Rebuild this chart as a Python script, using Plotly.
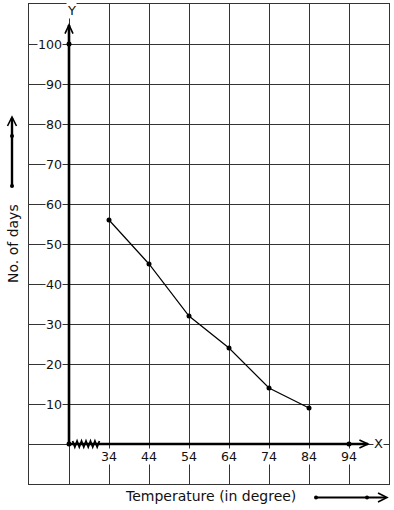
import plotly.graph_objects as go

temps = [34, 44, 54, 64, 74, 84]
days = [56, 45, 32, 24, 14, 9]
x_tick_vals = [34, 44, 54, 64, 74, 84, 94]
y_tick_vals = [10, 20, 30, 40, 50, 60, 70, 80, 90, 100]
origin_x = 24

FONT = "DejaVu Sans"
fig = go.Figure()

# data line
fig.add_trace(go.Scatter(x=temps, y=days, mode="lines+markers",
                         line=dict(color="black", width=1.2),
                         marker=dict(color="black", size=5),
                         hoverinfo="skip", showlegend=False))
# axis dots
fig.add_trace(go.Scatter(x=[origin_x, origin_x, 94], y=[0, 100, 0], mode="markers",
                         marker=dict(color="black", size=5), cliponaxis=False,
                         hoverinfo="skip", showlegend=False))

shapes = []
# Y axis thick line + chevron
shapes.append(dict(type="line", xref="x", yref="y", x0=origin_x, y0=0, x1=origin_x, y1=104.75,
                   line=dict(color="black", width=2.6)))
shapes.append(dict(type="path", xref="x", yref="y",
                   path=f"M {origin_x-1},102.6 L {origin_x},104.75 L {origin_x+1},102.6",
                   line=dict(color="black", width=1.6)))
# X axis thick line + chevron
shapes.append(dict(type="line", xref="x", yref="y", x0=origin_x, y0=0, x1=98.75, y1=0,
                   line=dict(color="black", width=2.6)))
shapes.append(dict(type="path", xref="x", yref="y",
                   path="M 96.6,1 L 98.75,0 L 96.6,-1",
                   line=dict(color="black", width=1.6)))
# zigzag (axis break)
zz = []
n = 12
x0z, x1z = 24.9, 31.6
for i in range(n + 1):
    xx = x0z + (x1z - x0z) * i / n
    yy = 0.75 if i % 2 == 0 else -0.75
    zz.append(f"{'M' if i == 0 else 'L'} {xx:.3f},{yy}")
shapes.append(dict(type="path", xref="x", yref="y", path=" ".join(zz),
                   line=dict(color="black", width=1.8)))

# left decorative arrow (paper coords; 1px x = 1/360, 1px y = 1/480)
def px(xp):
    return (xp - 29) / 360
def py(yp):
    return (484 - yp) / 480

shapes.append(dict(type="line", xref="paper", yref="paper", x0=px(12), y0=py(186), x1=px(12), y1=py(118),
                   line=dict(color="black", width=2.4)))
shapes.append(dict(type="path", xref="paper", yref="paper",
                   path=f"M {px(7.5)},{py(126)} L {px(12)},{py(117)} L {px(16.5)},{py(126)}",
                   line=dict(color="black", width=1.6)))
for yy in (186, 136):
    shapes.append(dict(type="circle", xref="paper", yref="paper",
                       x0=px(10), x1=px(14), y0=py(yy + 2), y1=py(yy - 2),
                       fillcolor="black", line=dict(color="black", width=0)))
# bottom decorative arrow
shapes.append(dict(type="line", xref="paper", yref="paper", x0=px(316), y0=py(497.5), x1=px(386), y1=py(497.5),
                   line=dict(color="black", width=2.2)))
shapes.append(dict(type="path", xref="paper", yref="paper",
                   path=f"M {px(378)},{py(493)} L {px(387)},{py(497.5)} L {px(378)},{py(502)}",
                   line=dict(color="black", width=1.6)))
for xx in (316, 367):
    shapes.append(dict(type="circle", xref="paper", yref="paper",
                       x0=px(xx - 2), x1=px(xx + 2), y0=py(499.5), y1=py(495.5),
                       fillcolor="black", line=dict(color="black", width=0)))

annotations = []
for v in y_tick_vals:
    annotations.append(dict(x=22.4, y=v, xref="x", yref="y", text=str(v), showarrow=False,
                            xanchor="right", yanchor="middle", bgcolor="white", borderpad=0,
                            font=dict(family=FONT, size=12.6, color="#111")))
for v in x_tick_vals:
    annotations.append(dict(x=v, y=-3.1, xref="x", yref="y", text=str(v), showarrow=False,
                            xanchor="center", yanchor="middle", bgcolor="white", borderpad=0,
                            font=dict(family=FONT, size=12.6, color="#111")))
annotations.append(dict(x=24.5, y=108.3, xref="x", yref="y", text="Y", showarrow=False,
                        xanchor="center", yanchor="middle", bgcolor="white", borderpad=0,
                        font=dict(family=FONT, size=13, color="#111")))
annotations.append(dict(x=101.3, y=0.2, xref="x", yref="y", text="X", showarrow=False,
                        xanchor="center", yanchor="middle", bgcolor="white", borderpad=0,
                        font=dict(family=FONT, size=13, color="#111")))
annotations.append(dict(x=px(13), y=py(244), xref="paper", yref="paper", text="No. of days",
                        showarrow=False, textangle=-90, xanchor="center", yanchor="middle",
                        font=dict(family=FONT, size=14, color="#111")))
annotations.append(dict(x=px(210), y=py(496), xref="paper", yref="paper", text="Temperature (in degree)",
                        showarrow=False, xanchor="center", yanchor="middle",
                        font=dict(family=FONT, size=14, color="#111")))

fig.update_layout(
    width=394, height=510,
    margin=dict(l=29, r=5, t=4, b=26),
    paper_bgcolor="white", plot_bgcolor="white",
    shapes=shapes, annotations=annotations,
    xaxis=dict(range=[14, 104], tick0=4, dtick=10, showgrid=True, gridcolor="#333",
               gridwidth=1.3, zeroline=False, showticklabels=False, ticks="",
               showline=True, linecolor="#333", linewidth=1.3, mirror=True, fixedrange=True),
    yaxis=dict(range=[-10, 110], tick0=0, dtick=10, showgrid=True, gridcolor="#333",
               gridwidth=1.3, zeroline=False, showticklabels=False, ticks="",
               showline=True, linecolor="#333", linewidth=1.3, mirror=True, fixedrange=True),
)

fig.write_html("out.html", config={"displayModeBar": False},
               post_script="document.body.style.margin='0';document.body.style.overflow='hidden';")
